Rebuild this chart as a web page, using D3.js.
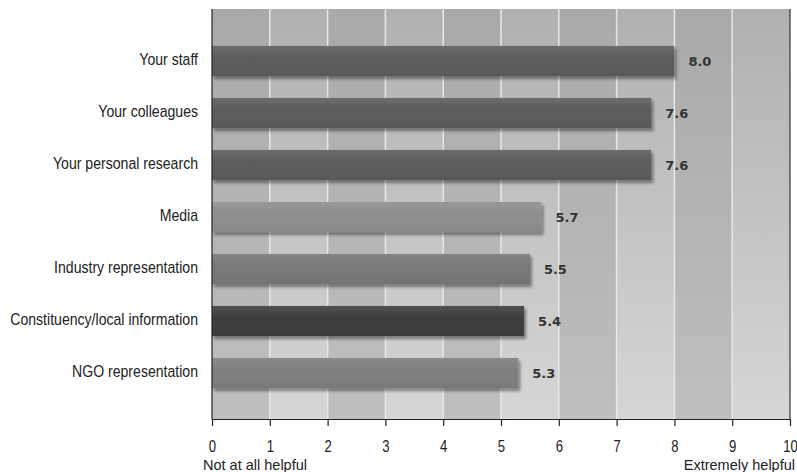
<!DOCTYPE html>
<html><head><meta charset="utf-8">
<script src="https://cdn.jsdelivr.net/npm/d3@7"></script>
<style>
body{margin:0;background:#fff;}
svg{display:block;}
</style></head>
<body>
<svg id="chart" width="797" height="472"></svg>
<script>
const categories = ["Your staff","Your colleagues","Your personal research","Media","Industry representation","Constituency/local information","NGO representation"];
const values = [8.0, 7.6, 7.6, 5.7, 5.5, 5.4, 5.3];
const barColors = ["#5c5c5c","#5c5c5c","#5c5c5c","#8e8e8e","#787878","#3c3c3c","#7e7e7e"];
const tickValues = [0,1,2,3,4,5,6,7,8,9,10];
const axisLeftLabel = "Not at all helpful";
const axisRightLabel = "Extremely helpful";

const svg = d3.select("#chart");
const plotTop = 9, plotBottom = 419;
const x = d3.scaleLinear().domain([0,10]).range([212,790]);
const y = d3.scaleBand().domain(categories).range([35,399]).paddingInner(0.42).paddingOuter(0.21);

const defs = svg.append("defs");
const gMed = defs.append("linearGradient").attr("id","gMed").attr("x1",0).attr("y1",0).attr("x2",0).attr("y2",1);
gMed.append("stop").attr("offset","0%").attr("stop-color","#a9a9a9");
gMed.append("stop").attr("offset","100%").attr("stop-color","#bfbfbf");
const gLight = defs.append("linearGradient").attr("id","gLight").attr("x1",0).attr("y1",0).attr("x2",0).attr("y2",1);
gLight.append("stop").attr("offset","0%").attr("stop-color","#b0b0b0");
gLight.append("stop").attr("offset","100%").attr("stop-color","#d6d6d6");
const f = defs.append("filter").attr("id","shadow").attr("x","-5%").attr("y","-30%").attr("width","115%").attr("height","180%");
f.append("feDropShadow").attr("dx",2).attr("dy",3).attr("stdDeviation",1.8).attr("flood-color","#000").attr("flood-opacity",0.4);
const hl = defs.append("linearGradient").attr("id","hl").attr("x1",0).attr("y1",0).attr("x2",0).attr("y2",1);
hl.append("stop").attr("offset","0%").attr("stop-color","#fff").attr("stop-opacity",0.1);
hl.append("stop").attr("offset","40%").attr("stop-color","#fff").attr("stop-opacity",0.0);
hl.append("stop").attr("offset","100%").attr("stop-color","#000").attr("stop-opacity",0.05);

// background columns
const cols = d3.range(10);
svg.append("g").selectAll("rect").data(cols).join("rect")
  .attr("x", d => x(d)).attr("y", plotTop)
  .attr("width", d => x(d+1)-x(d)).attr("height", plotBottom-plotTop)
  .attr("fill", d => d%2===0 ? "url(#gMed)" : "url(#gLight)");

// grid lines
svg.append("g").selectAll("line").data(tickValues.slice(1,10)).join("line")
  .attr("x1", d => x(d)).attr("x2", d => x(d))
  .attr("y1", plotTop).attr("y2", plotBottom)
  .attr("stroke","#e8e8e8").attr("stroke-width",1.5);

// right border
svg.append("line").attr("x1",x(10)).attr("x2",x(10)).attr("y1",plotTop).attr("y2",plotBottom)
  .attr("stroke","#333").attr("stroke-width",1.2);

// bars
const bars = svg.append("g");
bars.selectAll("rect.bar").data(values).join("rect").attr("class","bar")
  .attr("x", x(0)).attr("y", (d,i) => y(categories[i]))
  .attr("width", d => x(d)-x(0)).attr("height", y.bandwidth())
  .attr("fill", (d,i) => barColors[i]).attr("filter","url(#shadow)");
bars.selectAll("rect.hl").data(values).join("rect").attr("class","hl")
  .attr("x", x(0)).attr("y", (d,i) => y(categories[i]))
  .attr("width", d => x(d)-x(0)).attr("height", y.bandwidth())
  .attr("fill","url(#hl)");

// value labels
svg.append("g").selectAll("text").data(values).join("text")
  .attr("x", d => x(d)+14).attr("y", (d,i) => y(categories[i]) + y.bandwidth()/2 + 1)
  .attr("dominant-baseline","middle")
  .attr("font-family","DejaVu Sans, Verdana, sans-serif").attr("font-weight","bold")
  .attr("font-size",13).attr("fill","#333")
  .text(d => d.toFixed(1));

// category labels (condensed look)
svg.append("g").selectAll("text").data(categories).join("text")
  .attr("transform", d => `translate(198,${y(d) + y.bandwidth()/2}) scale(0.88,1)`)
  .attr("dominant-baseline","middle").attr("text-anchor","end")
  .attr("font-family","'Liberation Sans', Arial, sans-serif")
  .attr("font-size",16).attr("fill","#222")
  .text(d => d);

// left axis line
svg.append("line").attr("x1",x(0)).attr("x2",x(0)).attr("y1",plotTop).attr("y2",plotBottom)
  .attr("stroke","#222").attr("stroke-width",1.2);

// bottom axis
const ax = svg.append("g").attr("transform",`translate(0,${plotBottom})`)
  .call(d3.axisBottom(x).tickValues(tickValues).tickSize(7).tickSizeOuter(0).tickPadding(15).tickFormat(d3.format("d")));
ax.select(".domain").attr("stroke","#222").attr("stroke-width",1.2);
ax.selectAll(".tick line").attr("stroke","#222").attr("stroke-width",1.2);
ax.selectAll(".tick text").attr("font-family","'Liberation Sans', Arial, sans-serif").attr("font-size",16).attr("fill","#222")
  .attr("transform","scale(0.82,1)");

svg.append("text").attr("x",203).attr("y",470)
  .attr("font-family","'Liberation Sans', Arial, sans-serif").attr("font-size",14.5).attr("fill","#222")
  .text(axisLeftLabel);
svg.append("text").attr("x",795).attr("y",470).attr("text-anchor","end")
  .attr("font-family","'Liberation Sans', Arial, sans-serif").attr("font-size",14.5).attr("fill","#222")
  .text(axisRightLabel);
</script>
</body></html>
